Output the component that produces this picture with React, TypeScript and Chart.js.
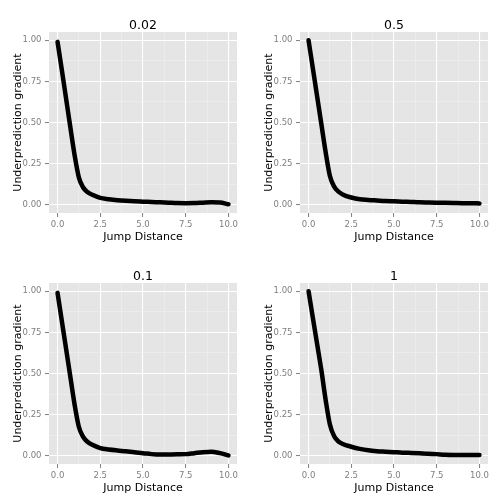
import React, { useEffect, useRef } from 'react';
import { Chart, registerables } from 'chart.js';

Chart.register(...registerables);

const FONT = '"DejaVu Sans", sans-serif';

const panelTitles = ['0.02', '0.5', '0.1', '1'];
const xAxisTitle = 'Jump Distance';
const yAxisTitle = 'Underprediction gradient';

const jumpDistance = [0, 0.25, 0.5, 0.75, 1, 1.25, 1.5, 1.75, 2, 2.5, 3, 3.5, 4, 4.5, 5, 5.5, 6, 6.5, 7, 7.5, 8, 8.5, 9, 9.5, 10];

const gradient002 = [0.99, 0.82, 0.645, 0.47, 0.3, 0.165, 0.105, 0.077, 0.062, 0.042, 0.034, 0.028, 0.024, 0.021, 0.019, 0.017, 0.015, 0.013, 0.011, 0.01, 0.011, 0.013, 0.015, 0.014, 0.003];
const gradient05 = [1.0, 0.83, 0.66, 0.49, 0.32, 0.175, 0.11, 0.08, 0.063, 0.044, 0.033, 0.029, 0.026, 0.023, 0.021, 0.019, 0.017, 0.015, 0.014, 0.013, 0.012, 0.011, 0.01, 0.01, 0.008];
const gradient01 = [0.99, 0.82, 0.65, 0.48, 0.31, 0.175, 0.115, 0.085, 0.068, 0.047, 0.038, 0.032, 0.027, 0.021, 0.016, 0.01, 0.007, 0.008, 0.009, 0.01, 0.016, 0.022, 0.025, 0.016, 0.002];
const gradient1 = [1.0, 0.84, 0.68, 0.52, 0.34, 0.19, 0.118, 0.087, 0.072, 0.055, 0.042, 0.033, 0.028, 0.025, 0.022, 0.019, 0.017, 0.015, 0.013, 0.01, 0.006, 0.005, 0.005, 0.005, 0.005];

const panelSeries = [gradient002, gradient05, gradient01, gradient1];

const xMajorTicks = [0, 2.5, 5, 7.5, 10];
const xTickLabels = ['0.0', '2.5', '5.0', '7.5', '10.0'];
const xMinorTicks = [1.25, 3.75, 6.25, 8.75];
const yMajorTicks = [0, 0.25, 0.5, 0.75, 1];
const yTickLabels = ['0.00', '0.25', '0.50', '0.75', '1.00'];
const yMinorTicks = [0.125, 0.375, 0.625, 0.875];

const CELL = 251;

function buildTicks(major: number[], minor: number[]) {
  return [...major, ...minor].sort((a, b) => a - b).map((v) => ({ value: v }));
}

const panelPlugin = {
  id: 'panelDecor',
  beforeDraw(chart: any) {
    const { ctx, chartArea } = chart;
    ctx.save();
    ctx.fillStyle = '#E5E5E5';
    ctx.fillRect(chartArea.left, chartArea.top, chartArea.right - chartArea.left, chartArea.bottom - chartArea.top);
    ctx.restore();
  },
  afterDraw(chart: any, _args: any, opts: any) {
    const { ctx, chartArea } = chart;
    ctx.save();
    ctx.fillStyle = '#000000';
    ctx.font = `12.5px ${FONT}`;
    ctx.textAlign = 'center';
    ctx.textBaseline = 'alphabetic';
    ctx.fillText(opts.text, (chartArea.left + chartArea.right) / 2, chartArea.top - 2.7);
    ctx.restore();
  },
};

function makeScale(axis: 'x' | 'y', major: number[], minor: number[], labels: string[]) {
  const isMajor = (v: number) => major.indexOf(v) >= 0;
  return {
    type: 'linear',
    min: axis === 'x' ? -0.5 : -0.05,
    max: axis === 'x' ? 10.5 : 1.05,
    afterBuildTicks: (scale: any) => {
      scale.ticks = buildTicks(major, minor);
    },
    afterFit: (scale: any) => {
      if (axis === 'x') scale.height = 38;
      else scale.width = 49;
    },
    border: { display: false },
    grid: {
      drawTicks: true,
      tickLength: 4,
      color: (c: any) => (c.tick && isMajor(c.tick.value) ? '#FFFFFF' : '#F2F2F2'),
      lineWidth: (c: any) => (c.tick && isMajor(c.tick.value) ? 1.1 : 0.55),
      tickColor: (c: any) => (c.tick && isMajor(c.tick.value) ? '#7F7F7F' : 'rgba(0,0,0,0)'),
      tickWidth: 1,
    },
    ticks: {
      autoSkip: false,
      maxRotation: 0,
      minRotation: 0,
      padding: axis === 'x' ? 3 : 3.5,
      color: '#7F7F7F',
      font: { family: FONT, size: 8.5 },
      callback: (value: number) => {
        const i = major.indexOf(value);
        return i >= 0 ? labels[i] : '';
      },
    },
    title: {
      display: true,
      text: axis === 'x' ? xAxisTitle : yAxisTitle,
      color: '#000000',
      font: { family: FONT, size: 11 },
      padding: axis === 'x' ? { top: 0, bottom: 7.4 } : { top: 11.4, bottom: 0 },
    },
  };
}

function Panel({ title, values, left, top }: { title: string; values: number[]; left: number; top: number }) {
  const ref = useRef<HTMLCanvasElement | null>(null);
  useEffect(() => {
    if (!ref.current) return;
    const chart = new Chart(ref.current, {
      type: 'line',
      data: {
        datasets: [
          {
            data: jumpDistance.map((x, i) => ({ x, y: values[i] })),
            borderColor: '#000000',
            borderWidth: 4.5,
            pointRadius: 0,
            cubicInterpolationMode: 'monotone',
            borderCapStyle: 'round',
            borderJoinStyle: 'round',
            fill: false,
          },
        ],
      },
      options: {
        animation: false,
        responsive: false,
        devicePixelRatio: 1,
        layout: { padding: { left: 0, right: 14, top: 32, bottom: 0 } },
        plugins: {
          legend: { display: false },
          tooltip: { enabled: false },
          title: { display: false },
          panelDecor: { text: title },
        } as any,
        scales: {
          x: makeScale('x', xMajorTicks, xMinorTicks, xTickLabels) as any,
          y: makeScale('y', yMajorTicks, yMinorTicks, yTickLabels) as any,
        },
      },
      plugins: [panelPlugin],
    } as any);
    return () => chart.destroy();
  }, [title, values]);
  return (
    <canvas
      ref={ref}
      width={CELL}
      height={CELL}
      style={{ position: 'absolute', left, top, width: CELL, height: CELL }}
    />
  );
}

export default function App() {
  useEffect(() => {
    document.body.style.margin = '0';
    document.body.style.background = '#FFFFFF';
  }, []);
  return (
    <div style={{ position: 'relative', width: 503, height: 503, background: '#FFFFFF' }}>
      {panelTitles.map((t, i) => (
        <Panel
          key={t}
          title={t}
          values={panelSeries[i]}
          left={(i % 2) * CELL}
          top={Math.floor(i / 2) * CELL}
        />
      ))}
    </div>
  );
}
